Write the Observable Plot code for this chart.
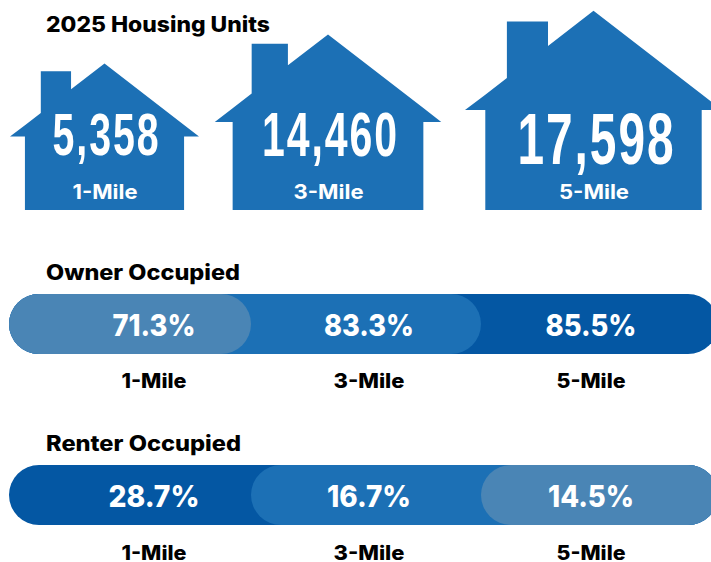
<!DOCTYPE html>
<html>
<head>
<meta charset="utf-8">
<script src="https://cdn.jsdelivr.net/npm/d3@7"></script>
<script src="https://cdn.jsdelivr.net/npm/@observablehq/plot@0.6"></script>
<style>
  html, body { margin: 0; padding: 0; background: #fff; overflow: hidden; }
  svg { display: block; }
</style>
</head>
<body>
<div id="chart"></div>
<script>
// ---- values ----
const miles = ["1-Mile", "3-Mile", "5-Mile"];
const housingUnits = [5358, 14460, 17598];
const ownerOccupied = [71.3, 83.3, 85.5];
const renterOccupied = [28.7, 16.7, 14.5];
const headings = ["2025 Housing Units", "Owner Occupied", "Renter Occupied"];

// ---- layout (separate from the values) ----
const houseCenter = [104.5, 328, 593.5];
const houseWidth = [189, 226.5, 257];
const houseBase = 210;
const houseAspect = 0.775;
const numberSize = [60, 63, 73];
const numberWidth = [108, 137, 158];
const numberCenterX = [106, 330, 596];
const numberCenterY = [135, 135.5, 140];
const milesInHouseY = [192.5, 192.5, 192.5];
const milesInHouseWidth = [65, 70, 70];
// unit outline of a house: u runs across the eaves, top/bottom run from the ridge to the ground
const outlineU = [0, 0.079, 0.079, 0.163, 0.163, 0.323, 0.323, 0.5, 0.921, 0.921, 1];
const outlineTop = [0.498, 0.421, 0.421, 0.337, 0.053, 0.053, 0.176, 0, 0.419, 0.419, 0.498];
const outlineBottom = [0.498, 0.498, 1, 1, 1, 1, 1, 1, 1, 0.498, 0.498];

const barEdges = [9, 251, 481, 718];
const barTop = { Owner: 294, Renter: 465 };
const barHeight = 60;
const barRadius = 30;
const shareCenter = [153.5, 368.5, 590.5];
const ownerWidth = [83, 90, 91];
const renterWidth = [91, 84, 86];
const underWidth = [65, 71, 69];
const underY = [381, 553];
const headingX = 45.5;
const headingY = [24.5, 272.5, 443.5];
const headingWidth = [224, 194, 195];
const light = "#4a85b5", mid = "#1c70b5", dark = "#0457a3";

// ---- tables built from the arrays ----
const houseShape = miles.flatMap((mile, i) => outlineU.map((u, k) => {
  const toY = (v) => houseBase - (1 - v) * houseWidth[i] * houseAspect;
  return { mile, x: houseCenter[i] + (u - 0.5) * houseWidth[i], top: toY(outlineTop[k]), bottom: toY(outlineBottom[k]) };
}));
const houseText = miles.map((mile, i) => ({
  mile, units: d3.format(",")(housingUnits[i]),
  x: houseCenter[i], numberX: numberCenterX[i], size: numberSize[i],
  y: numberCenterY[i], mileY: milesInHouseY[i]
}));
const ownerBars = miles.map((mile, i) => ({
  mile, x1: barEdges[0], x2: barEdges[i + 1], y1: barTop.Owner, y2: barTop.Owner + barHeight,
  fill: [light, mid, dark][i]
})).reverse();
const renterBars = miles.map((mile, i) => ({
  mile, x1: barEdges[i], x2: barEdges[3], y1: barTop.Renter, y2: barTop.Renter + barHeight,
  fill: [dark, mid, light][i]
}));
const shares = [
  ...miles.map((mile, i) => ({ text: ownerOccupied[i].toFixed(1) + "%", x: shareCenter[i], y: barTop.Owner + 31.5 })),
  ...miles.map((mile, i) => ({ text: renterOccupied[i].toFixed(1) + "%", x: shareCenter[i], y: barTop.Renter + 31.5 }))
];
const underLabels = underY.flatMap((y) => miles.map((mile, i) => ({ mile, x: shareCenter[i], y })));
const headingRows = headings.map((text, i) => ({ text, x: headingX, y: headingY[i] }));

const font = "Inter, 'Open Sans', sans-serif";

const chart = Plot.plot({
  width: 711,
  height: 562,
  margin: 0,
  x: { type: "linear", domain: [0, 711], range: [0, 711], axis: null },
  y: { type: "linear", domain: [0, 562], range: [0, 562], axis: null },
  style: { background: "#fff" },
  marks: [
    Plot.area(houseShape, { x1: "x", y1: "top", y2: "bottom", z: "mile", fill: mid }),
    Plot.text(houseText, { x: "numberX", y: "y", text: "units", fontSize: "size", fill: "#fff", fontFamily: "'Liberation Sans', sans-serif", fontWeight: 700 }),
    Plot.text(houseText, { x: "x", y: "mileY", text: "mile", fontSize: 20, fill: "#fff", fontFamily: font, fontWeight: 700 }),
    Plot.rect(ownerBars, { x1: "x1", x2: "x2", y1: "y1", y2: "y2", fill: "fill", rx: barRadius }),
    Plot.rect(renterBars, { x1: "x1", x2: "x2", y1: "y1", y2: "y2", fill: "fill", rx: barRadius }),
    Plot.text(shares, { x: "x", y: "y", text: "text", fontSize: 30, fill: "#fff", fontFamily: font, fontWeight: 800 }),
    Plot.text(underLabels, { x: "x", y: "y", text: "mile", fontSize: 20, fill: "#000", fontFamily: font, fontWeight: 800 }),
    Plot.text(headingRows, { x: "x", y: "y", text: "text", fontSize: 21, fill: "#000", fontFamily: font, fontWeight: 800, textAnchor: "start" })
  ]
});

// stretch or condense each text to the width it has in the picture (document order = mark order)
const textWidths = [...numberWidth, ...milesInHouseWidth, ...ownerWidth, ...renterWidth, ...underWidth, ...underWidth, ...headingWidth];
d3.select(chart).selectAll("text").each(function (_, i) {
  const t = d3.select(this).attr("textLength", textWidths[i]).attr("lengthAdjust", "spacingAndGlyphs");
  if (i < numberWidth.length) t.style("letter-spacing", "3px");
});
document.getElementById("chart").append(chart);
</script>
</body>
</html>
